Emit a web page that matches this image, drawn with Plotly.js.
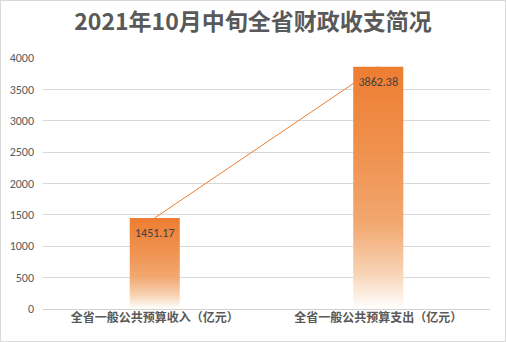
<!DOCTYPE html>
<html><head><meta charset="utf-8">
<script src="https://cdn.plot.ly/plotly-3.0.1.min.js"></script>
<style>
html,body{margin:0;padding:0;background:#fff;}
#wrap{position:relative;width:506px;height:342px;}
#chart{width:506px;height:342px;}
#frame{position:absolute;left:0;top:0;width:506px;height:342px;box-sizing:border-box;border:1px solid #D9D9D9;pointer-events:none;}
</style></head>
<body>
<div id="wrap"><div id="chart"></div><div id="frame"></div></div>
<script>
const categories = ["全省一般公共预算收入（亿元）", "全省一般公共预算支出（亿元）"];
const values = [1451.17, 3862.38];
const valueLabels = ["1451.17", "3862.38"];
const yTicks = [0, 500, 1000, 1500, 2000, 2500, 3000, 3500, 4000];

const FONT = "Calibri, 'Liberation Sans', 'Noto Sans CJK SC', sans-serif";
const CJK = "'Noto Sans CJK SC', 'Microsoft YaHei', sans-serif";

const bars = {
  type: "bar", x: categories, y: values,
  text: valueLabels, textposition: "inside", insidetextanchor: "end",
  textfont: {family: FONT, size: 12, color: "#404040"},
  marker: {color: "#ED7D31", line: {width: 0}},
  hoverinfo: "skip", cliponaxis: false
};
const line = {
  type: "scatter", mode: "lines", x: categories, y: values,
  line: {color: "#ED7D31", width: 1}, hoverinfo: "skip"
};
const layout = {
  width: 506, height: 342,
  margin: {l: 43, r: 16, t: 58, b: 33},
  paper_bgcolor: "#fff", plot_bgcolor: "#fff",
  showlegend: false, bargap: 0.776,
  title: {text: "2021年10月中旬全省财政收支简况", x: 0.5, xanchor: "center", y: 0.935, yanchor: "middle",
          font: {family: CJK, size: 23, color: "#595959", weight: "bold"}},
  xaxis: {type: "category", showgrid: false, showline: false, zeroline: false, ticks: "",
          tickfont: {family: CJK, size: 12, color: "#595959", weight: "bold"}},
  yaxis: {range: [0, 4000], tickvals: yTicks, ticktext: yTicks.map(String),
          showgrid: true, gridcolor: "#D9D9D9", gridwidth: 1,
          zeroline: true, zerolinecolor: "#D0D0D0", zerolinewidth: 1,
          showline: false, ticks: "", ticklabelstandoff: 8,
          tickfont: {family: FONT, size: 12, color: "#595959"}}
};
Plotly.newPlot("chart", [bars, line], layout, {staticPlot: true, displayModeBar: false}).then(function(gd){
  const svg = gd.querySelector("svg.main-svg");
  const ns = "http://www.w3.org/2000/svg";
  let defs = svg.querySelector("defs");
  const lg = document.createElementNS(ns, "linearGradient");
  lg.setAttribute("id", "barGrad");
  lg.setAttribute("x1", "0"); lg.setAttribute("y1", "0");
  lg.setAttribute("x2", "0"); lg.setAttribute("y2", "1");
  [["0", "#ED7D31"], ["0.35", "#EF914E"], ["0.65", "#F2A871"], ["0.85", "#F8D3B4"], ["1", "#FFFFFF"]].forEach(function(s){
    const st = document.createElementNS(ns, "stop");
    st.setAttribute("offset", s[0]); st.setAttribute("stop-color", s[1]);
    lg.appendChild(st);
  });
  defs.appendChild(lg);
  gd.querySelectorAll(".barlayer .point path").forEach(function(p){
    p.style.fill = "url(#barGrad)";
  });
  gd.querySelectorAll(".barlayer .point text.bartext").forEach(function(t){
    const tr = t.getAttribute("transform") || "";
    t.setAttribute("transform", "translate(0,5) " + tr);
  });
});
</script>
</body></html>
